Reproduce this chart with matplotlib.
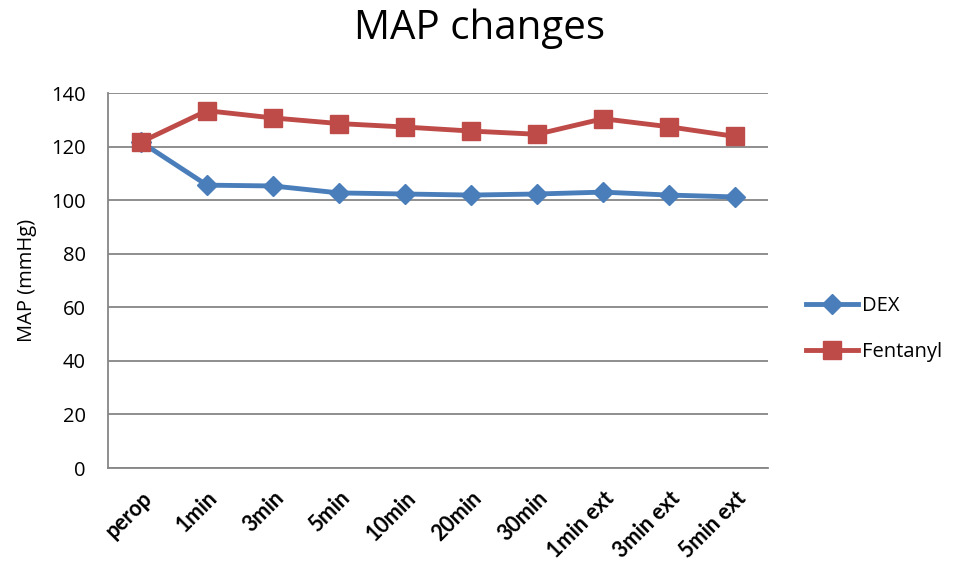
import matplotlib
matplotlib.use("Agg")
import matplotlib.pyplot as plt

# time points
categories = ["perop", "1min", "3min", "5min", "10min", "20min", "30min",
              "1min ext", "3min ext", "5min ext"]
# mean arterial pressure (mmHg)
dex = [121.7, 105.6, 105.3, 102.7, 102.3, 101.9, 102.3, 103.0, 101.9, 101.2]
fentanyl = [121.7, 133.4, 130.7, 128.6, 127.3, 125.8, 124.6, 130.4, 127.4, 123.8]

plt.rcParams['font.family'] = ['Open Sans', 'DejaVu Sans']

fig = plt.figure(figsize=(9.6, 5.76), dpi=100)
ax = fig.add_axes([0.1125, 0.1875, 0.6875, 0.651])

x = range(len(categories))
ax.plot(x, dex, color='#4a7ebb', lw=3.5, marker='D', ms=10, label='DEX', zorder=3)
ax.plot(x, fentanyl, color='#be4b48', lw=3.5, marker='s', ms=13, label='Fentanyl', zorder=3)

ax.set_xlim(-0.5, len(categories) - 0.5)
ax.set_ylim(0, 140)
ax.set_yticks(range(0, 141, 20))
ax.grid(axis='y', color='#868686', lw=1.3)
ax.set_axisbelow(True)
for s in ['top', 'right']:
    ax.spines[s].set_visible(False)
for s in ['left', 'bottom']:
    ax.spines[s].set_color('#868686')
    ax.spines[s].set_linewidth(1.3)
ax.tick_params(axis='both', length=0)
ax.tick_params(axis='y', labelsize=14.5, pad=16)

ax.set_xticks(list(x))
ax.set_xticklabels(categories, rotation=45, ha='right', rotation_mode='anchor',
                   fontsize=15.5, fontweight='bold', family=['Lato', 'DejaVu Sans'])
ax.tick_params(axis='x', pad=14)

ax.set_ylabel('MAP (mmHg)', fontsize=14.5, labelpad=10)
fig.suptitle('MAP changes', fontsize=29, y=0.985)

ax.legend(loc='center left', bbox_to_anchor=(1.03, 0.37), frameon=False,
          fontsize=14.5, handlelength=2.6, labelspacing=1.3, handletextpad=0.2)

fig.savefig('out.png', dpi=100)
